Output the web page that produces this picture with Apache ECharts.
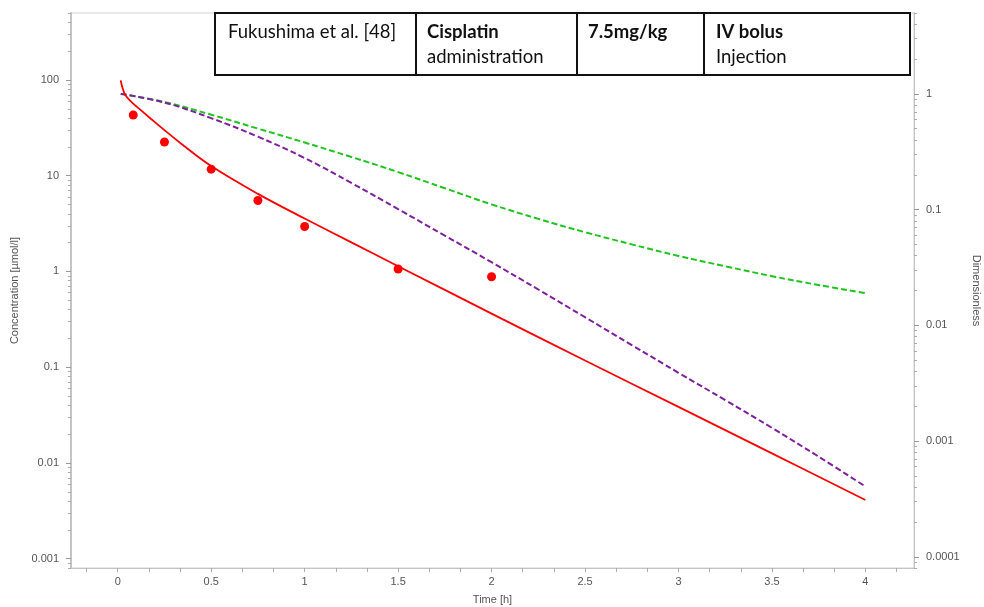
<!DOCTYPE html>
<html>
<head>
<meta charset="utf-8">
<script src="https://cdn.jsdelivr.net/npm/echarts@6/dist/echarts.min.js"></script>
<style>
html,body{margin:0;padding:0;background:#fff;}
#chart{width:984px;height:607px;}
</style>
</head>
<body>
<div id="chart"></div>
<script>
// ---- data ----
const redTimes   = [0.016, 0.025, 0.04, 0.07, 0.12, 0.18, 0.25, 0.35, 0.5, 0.75, 1.0, 1.25, 1.5, 2.0, 2.5, 3.0, 3.5, 4.0];
const redValues  = [98.9, 83.2, 70.0, 59.6, 49.0, 38.9, 29.9, 20.8, 12.6, 6.46, 3.57, 2.01, 1.135, 0.363, 0.1175, 0.0385, 0.0126, 0.0041];

const obsTimes   = [0.083, 0.25, 0.5, 0.75, 1.0, 1.5, 2.0];
const obsValues  = [43, 22.5, 11.7, 5.5, 2.95, 1.06, 0.88];

const greenTimes  = [0.016, 0.25, 0.5, 0.75, 1.0, 1.25, 1.5, 1.75, 2.0, 2.25, 2.5, 2.75, 3.0, 3.25, 3.5, 3.75, 4.0];
const greenValues = [1.0, 0.851, 0.661, 0.501, 0.380, 0.285, 0.211, 0.153, 0.111, 0.0832, 0.0638, 0.0501, 0.0398, 0.0324, 0.0266, 0.0223, 0.019];

const purpleTimes  = [0.016, 0.25, 0.5, 0.75, 1.0, 1.25, 1.5, 1.75, 2.0, 2.25, 2.5, 2.75, 3.0, 3.25, 3.5, 3.75, 4.0];
const purpleValues = [1.0, 0.841, 0.617, 0.427, 0.279, 0.170, 0.101, 0.0596, 0.0351, 0.0204, 0.01175, 0.00676, 0.00389, 0.00226, 0.0013, 0.000733, 0.000405];

const xTickLabels     = [0, 0.5, 1, 1.5, 2, 2.5, 3, 3.5, 4];
const leftTickLabels  = [0.001, 0.01, 0.1, 1, 10, 100];
const rightTickLabels = [0.0001, 0.001, 0.01, 0.1, 1];

const tableCol1 = ['', 'Fukushima et al. [48]'];
const tableCol2 = ['Cisplatin', 'administration'];
const tableCol3 = ['7.5mg/kg', ''];
const tableCol4 = ['IV bolus', 'Injection'];

// ---- helpers ----
function pairs(xs, ys){ return xs.map((x,i)=>[x, ys[i]]); }
function logMinor(min, max){
  const out = [];
  for (let d = -6; d <= 4; d++){
    for (let k = 1; k <= 9; k++){
      const v = +(k * Math.pow(10, d)).toPrecision(6);
      if (v >= min && v <= max) out.push(v);
    }
  }
  return out;
}
function fmt(v){ return String(+(+v).toPrecision(6)); }

const LMIN = 0.0008, LMAX = 500, RMIN = 0.00008, RMAX = 5;
const XMIN = -0.25, XMAX = 4.26;
const xMinorTicks = [];
for (let k = -1; k <= 25; k++) xMinorTicks.push(+(k/6).toFixed(6));

const AXFONT = 'Liberation Sans, Arial, sans-serif';
const labelStyle = {color:'#555', fontSize:11, fontFamily:AXFONT};
const nameStyle = {color:'#555', fontSize:11, fontFamily:AXFONT};

const chart = echarts.init(document.getElementById('chart'));
const FONT = 'Lato, "Open Sans", sans-serif';

function cellText(x, y, text, bold){
  return {type:'text', x:x, y:y, style:{text:text, font:(bold?'bold ':'')+'18.5px '+FONT, fill:'#111', textVerticalAlign:'middle'}};
}

chart.setOption({
  animation:false,
  backgroundColor:'#fff',
  grid:{left:71, right:70, top:13, bottom:39, show:true, borderColor:'#d0d0d0', borderWidth:1,
        containLabel:false, outerBoundsMode:'none'},
  xAxis:[{
    type:'value', min:XMIN, max:XMAX,
    name:'Time [h]', nameLocation:'middle', nameGap:26, nameTextStyle:nameStyle,
    axisLine:{show:true, onZero:false, lineStyle:{color:'#c4c4c4', width:1}},
    axisTick:{show:true, customValues:xMinorTicks, length:4, lineStyle:{color:'#aaa'}},
    axisLabel:Object.assign({customValues:xTickLabels, margin:8, formatter:fmt}, labelStyle),
    splitLine:{show:false}
  }],
  yAxis:[{
    type:'log', logBase:10, min:LMIN, max:LMAX, position:'left',
    name:'Concentration [µmol/l]', nameLocation:'middle', nameGap:50, nameTextStyle:nameStyle,
    axisLine:{show:true, onZero:false, lineStyle:{color:'#c4c4c4', width:2}},
    axisTick:{show:true, customValues:logMinor(LMIN, LMAX), length:3, lineStyle:{color:'#aaa'}},
    axisLabel:Object.assign({customValues:leftTickLabels, margin:12, formatter:fmt}, labelStyle),
    splitLine:{show:false}
  },{
    type:'log', logBase:10, min:RMIN, max:RMAX, position:'right',
    name:'Dimensionless', nameLocation:'middle', nameGap:56, nameRotate:-90, nameTextStyle:nameStyle,
    axisLine:{show:true, onZero:false, lineStyle:{color:'#c4c4c4', width:1}},
    axisTick:{show:true, customValues:logMinor(RMIN, RMAX), length:3, lineStyle:{color:'#aaa'}},
    axisLabel:Object.assign({customValues:rightTickLabels, margin:12, formatter:fmt}, labelStyle),
    splitLine:{show:false}
  },{
    type:'log', logBase:10, min:LMIN, max:LMAX, position:'left', offset:0,
    axisLine:{show:false, onZero:false},
    axisTick:{show:true, customValues:leftTickLabels, length:5, lineStyle:{color:'#999'}},
    axisLabel:{show:false}, splitLine:{show:false}
  },{
    type:'log', logBase:10, min:RMIN, max:RMAX, position:'right', offset:0,
    axisLine:{show:false, onZero:false},
    axisTick:{show:true, customValues:rightTickLabels, length:5, lineStyle:{color:'#999'}},
    axisLabel:{show:false}, splitLine:{show:false}
  }],
  series:[{
    type:'line', name:'green', yAxisIndex:1, data:pairs(greenTimes, greenValues),
    smooth:0.4, showSymbol:false, lineStyle:{color:'#1ec41e', width:2, type:[6,3]}, z:2
  },{
    type:'line', name:'purple', yAxisIndex:1, data:pairs(purpleTimes, purpleValues),
    smooth:0.4, showSymbol:false, lineStyle:{color:'#7e1f9c', width:2, type:[6,3]}, z:3
  },{
    type:'line', name:'simulated', yAxisIndex:0, data:pairs(redTimes, redValues),
    smooth:0.4, showSymbol:false, lineStyle:{color:'#ff0000', width:1.8}, z:4
  },{
    type:'scatter', name:'observed', yAxisIndex:0, data:pairs(obsTimes, obsValues),
    symbol:'circle', symbolSize:9, itemStyle:{color:'#ff0000', opacity:1}, z:5
  }],
  graphic:[{
    type:'group', z:100,
    children:[
      {type:'rect', shape:{x:215, y:13, width:695, height:62}, style:{fill:'#fff', stroke:'#111', lineWidth:2}},
      {type:'line', shape:{x1:416, y1:13, x2:416, y2:75}, style:{stroke:'#111', lineWidth:2}},
      {type:'line', shape:{x1:577, y1:13, x2:577, y2:75}, style:{stroke:'#111', lineWidth:2}},
      {type:'line', shape:{x1:704, y1:13, x2:704, y2:75}, style:{stroke:'#111', lineWidth:2}},
      cellText(228, 32, tableCol1[1], false),
      cellText(427, 32, tableCol2[0], true),
      cellText(427, 57, tableCol2[1], false),
      cellText(588, 32, tableCol3[0], true),
      cellText(716, 32, tableCol4[0], true),
      cellText(716, 57, tableCol4[1], false)
    ]
  }]
});
</script>
</body>
</html>
